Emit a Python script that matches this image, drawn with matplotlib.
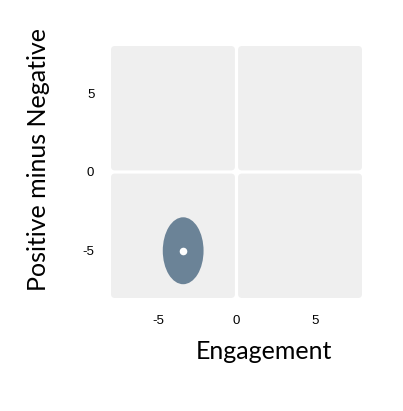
import matplotlib
matplotlib.use("Agg")
import matplotlib.pyplot as plt
from matplotlib.patches import FancyBboxPatch, Ellipse

# Data
x_ticks = [-5, 0, 5]
y_ticks = [-5, 0, 5]
x_label = "Engagement"
y_label = "Positive minus Negative"
center_x = [-3.4]
center_y = [-5.0]
ellipse_width = [2.6]
ellipse_height = [4.25]
lim = 8

fig = plt.figure(figsize=(4.03, 4.11), dpi=100)
ax = fig.add_axes([111/403, 113/411, 251/403, 252/411])
ax.set_xlim(-lim, lim)
ax.set_ylim(-lim, lim)

gap = 0.1
r = 0.25
quad_color = "#efefef"
for (x0, x1) in [(-lim, -gap), (gap, lim)]:
    for (y0, y1) in [(-lim, -gap), (gap, lim)]:
        p = FancyBboxPatch((x0 + r, y0 + r), (x1 - x0) - 2 * r, (y1 - y0) - 2 * r,
                           boxstyle=f"round,pad={r}", fc=quad_color, ec="none",
                           mutation_aspect=1)
        ax.add_patch(p)

for cx, cy, w, h in zip(center_x, center_y, ellipse_width, ellipse_height):
    ax.add_patch(Ellipse((cx, cy), w, h, fc="#6b8397", ec="none", zorder=3))
    ax.scatter([cx], [cy], s=30, c="white", zorder=4, linewidths=0)

for s in ax.spines.values():
    s.set_visible(False)
ax.set_xticks(x_ticks)
ax.set_yticks(y_ticks)
ax.set_xticklabels([str(v) for v in x_ticks], fontsize=9.5, family="Liberation Sans")
ax.set_yticklabels([str(v) for v in y_ticks], fontsize=9.5, family="Liberation Sans")
ax.tick_params(length=0, pad=12)
ax.set_xlabel(x_label, fontsize=18, family="Lato", labelpad=10)
ax.set_ylabel(y_label, fontsize=18, family="Lato", labelpad=22)
ax.xaxis.set_label_coords(0.61, -0.168)
ax.yaxis.set_label_coords(-0.245, 0.55)

fig.savefig("out.png", dpi=100)
